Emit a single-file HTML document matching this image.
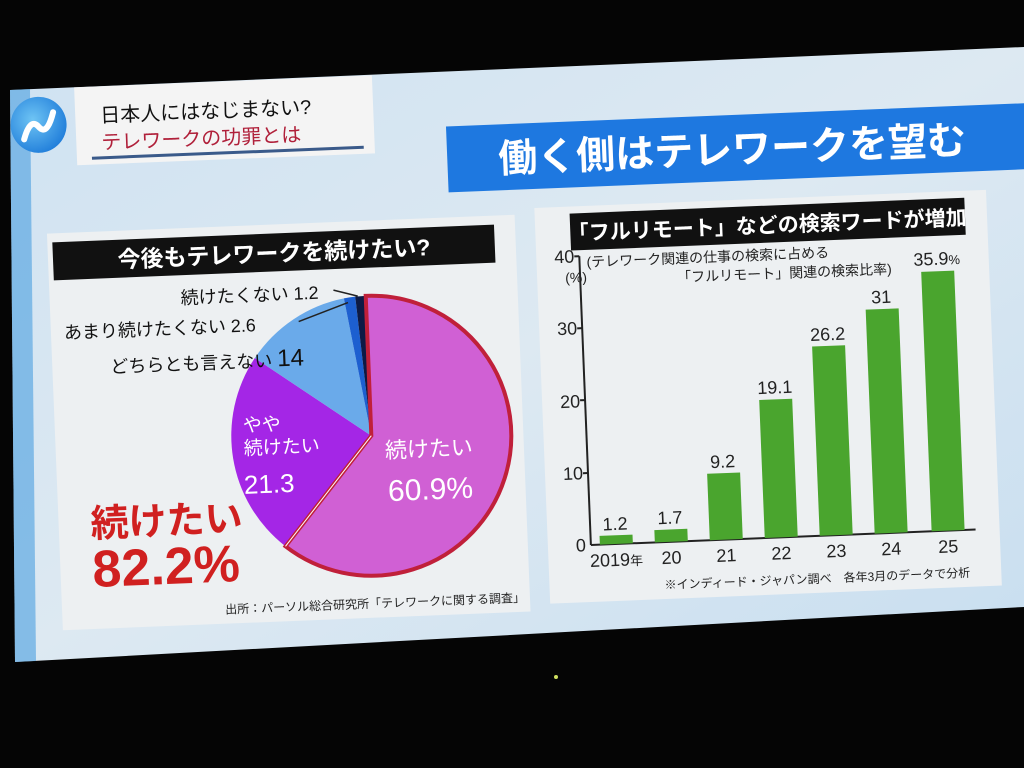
<!DOCTYPE html>
<html><head><meta charset="utf-8"><style>
html,body{margin:0;padding:0;background:#050505;width:1024px;height:768px;overflow:hidden}
svg{display:block}
text{font-family:"Liberation Sans","Noto Sans CJK JP",sans-serif}
</style></head><body>
<svg width="1024" height="768" viewBox="0 0 1024 768">
<defs>
<linearGradient id="scr" x1="0" y1="0" x2="1" y2="1">
<stop offset="0" stop-color="#cfe2f2"/><stop offset="0.5" stop-color="#dde9f2"/><stop offset="1" stop-color="#c8def0"/>
</linearGradient>
<radialGradient id="logo" cx="0.4" cy="0.4" r="0.7"><stop offset="0" stop-color="#6ec4f4"/><stop offset="1" stop-color="#1a78d8"/></radialGradient>
</defs>
<rect width="1024" height="768" fill="#050505"/>
<polygon points="10,90 1024,47 1024,607 15,662" fill="url(#scr)"/>
<polygon points="10,90 30,89 36,661 15,662" fill="#4a9ee0" opacity="0.6"/>
<g transform="rotate(-2.3 512 350)">
<circle cx="48" cy="106" r="28" fill="url(#logo)"/>
<path d="M33,120 Q40,98 48,108 Q56,118 63,94" stroke="#fff" stroke-width="6" fill="none" stroke-linecap="round"/>
<rect x="85" y="70" width="298" height="78" fill="#f4f4f4"/>
<text x="110" y="106" font-size="20" fill="#111">日本人にはなじまない?</text>
<text x="110" y="133" font-size="20" fill="#b0203a">テレワークの功罪とは</text>
<rect x="100" y="140" width="272" height="3" fill="#3a5a8a"/>
<rect x="455" y="124" width="600" height="66" fill="#1e78e0"/>
<text x="740" y="172" font-size="39" fill="#fff" text-anchor="middle" font-weight="bold">働く側はテレワークを望む</text>
<rect x="52" y="215" width="468" height="397" fill="#edf0f2"/>
<rect x="57" y="224" width="442" height="38" fill="#111"/>
<text x="278" y="252" font-size="23" fill="#fff" text-anchor="middle" font-weight="bold">今後もテレワークを続けたい?</text>
<g transform="translate(368 430)">
<path d="M0,0 L0,-140 A140,140 0 1,1 -90.2,107.1 Z" fill="#d060d4"/>
<path d="M0,0 L-90.2,107.1 A140,140 0 0,1 -113.3,-82.3 Z" fill="#a426e6"/>
<path d="M0,0 L-113.3,-82.3 A140,140 0 0,1 -21.9,-138.3 Z" fill="#6aaaea"/>
<path d="M0,0 L-21.9,-138.3 A140,140 0 0,1 -10.5,-139.6 Z" fill="#1d5fd0"/>
<path d="M0,0 L-10.5,-139.6 A140,140 0 0,1 0,-140 Z" fill="#0d1a45"/>
<path d="M0,-140 A140,140 0 1,1 -90.2,107.1 L0,0 Z" fill="none" stroke="#c0203a" stroke-width="4"/>
<line x1="0" y1="0" x2="-90.2" y2="107.1" stroke="#fff" stroke-width="1"/>
</g>
<line x1="336" y1="283" x2="360" y2="290" stroke="#222" stroke-width="1.5"/>
<line x1="300" y1="313" x2="350" y2="296" stroke="#222" stroke-width="1.5"/>
<text x="183" y="291" font-size="18" fill="#111">続けたくない 1.2</text>
<text x="65" y="321" font-size="18" fill="#111">あまり続けたくない 2.6</text>
<text x="110" y="357" font-size="18" fill="#111">どちらとも言えない <tspan font-size="24">14</tspan></text>
<text x="240" y="421" font-size="19" fill="#fff">やや</text>
<text x="240" y="444" font-size="19" fill="#fff">続けたい</text>
<text x="264" y="483" font-size="26" fill="#fff" text-anchor="middle">21.3</text>
<text x="425" y="453" font-size="22" fill="#fff" text-anchor="middle">続けたい</text>
<text x="425" y="496" font-size="30" fill="#fff" text-anchor="middle">60.9%</text>
<text x="84" y="520" font-size="38" fill="#d02020" font-weight="bold">続けたい</text>
<text x="84" y="570" font-size="52" fill="#d02020" font-weight="bold">82.2%</text>
<text x="215" y="602" font-size="12" fill="#222">出所：パーソル総合研究所「テレワークに関する調査」</text>
<rect x="540" y="209" width="452" height="396" fill="#edf0f2"/>
<rect x="575" y="216" width="395" height="37" fill="#111"/>
<text x="772" y="243" font-size="21" fill="#fff" text-anchor="middle" font-weight="bold">「フルリモート」などの検索ワードが増加</text>
<line x1="583" y1="259" x2="583" y2="548" stroke="#222" stroke-width="2"/>
<line x1="583" y1="548" x2="968" y2="548" stroke="#222" stroke-width="2"/>
<g font-size="18" fill="#222" text-anchor="end">
<text x="578" y="554">0</text><text x="578" y="482">10</text><text x="578" y="410">20</text><text x="578" y="337">30</text><text x="578" y="265">40</text>
</g>
<g stroke="#222" stroke-width="2"><line x1="578" y1="476" x2="583" y2="476"/><line x1="578" y1="403" x2="583" y2="403"/><line x1="578" y1="331" x2="583" y2="331"/><line x1="578" y1="259" x2="583" y2="259"/></g>
<text x="568" y="285" font-size="14" fill="#222">(%)</text>
<text x="590" y="270" font-size="14" fill="#222">(テレワーク関連の仕事の検索に占める</text>
<text x="680" y="289" font-size="14" fill="#222">「フルリモート」関連の検索比率)</text>
<g fill="#4aa52e">
<rect x="592" y="539.3" width="33" height="8.7"/>
<rect x="647" y="535.7" width="33" height="12.3"/>
<rect x="702" y="481.5" width="33" height="66.5"/>
<rect x="757" y="409.9" width="33" height="138.1"/>
<rect x="812" y="358.6" width="33" height="189.4"/>
<rect x="867" y="323.9" width="33" height="224.1"/>
<rect x="924" y="288.4" width="33" height="259.6"/>
</g>
<g font-size="18" fill="#222" text-anchor="middle">
<text x="608" y="534">1.2</text><text x="663" y="530">1.7</text><text x="718" y="476">9.2</text><text x="773" y="404">19.1</text><text x="828" y="353">26.2</text><text x="883" y="318">31</text><text x="940" y="282">35.9<tspan font-size="13">%</tspan></text>
<text x="608" y="570">2019<tspan font-size="13">年</tspan></text><text x="663" y="570">20</text><text x="718" y="570">21</text><text x="773" y="570">22</text><text x="828" y="570">23</text><text x="883" y="570">24</text><text x="940" y="570">25</text>
</g>
<text x="655" y="595" font-size="12" fill="#222">※インディード・ジャパン調べ　各年3月のデータで分析</text>
</g>
<circle cx="556" cy="677" r="2" fill="#cfe060"/>
</svg>
</body></html>
